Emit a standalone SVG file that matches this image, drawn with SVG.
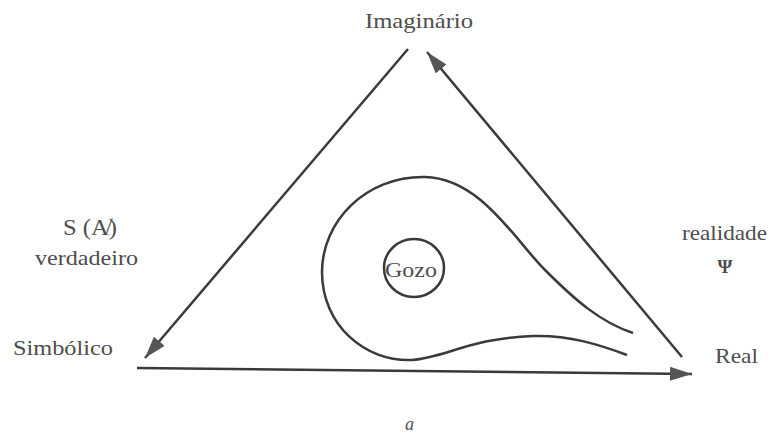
<svg xmlns="http://www.w3.org/2000/svg" width="773" height="436" viewBox="0 0 773 436">
<defs>
<style>
text{font-family:'Liberation Serif','Times New Roman',serif;fill:#4d4d4d;}
.edge{stroke:#3a3a3a;stroke-width:2.5;fill:none;}
</style>
<marker id="ah" markerUnits="userSpaceOnUse" markerWidth="24" markerHeight="16" refX="22" refY="7" orient="auto">
<path d="M0,0 L22,7 L0,14 Z" fill="#555"/>
</marker>
</defs>
<rect width="773" height="436" fill="#fff"/>
<g id="connectors">
<line class="edge" x1="408" y1="49" x2="145" y2="358" marker-end="url(#ah)"/>
<line class="edge" x1="682" y1="357" x2="427" y2="52" marker-end="url(#ah)"/>
<line class="edge" x1="137" y1="368" x2="692" y2="374" marker-end="url(#ah)"/>
</g>
<g id="loop">
<path class="edge" d="M633,333 C600,322 575,300 545,270 C515,240 480,178 425,177 C365,176 322,222 322,272 C322,325 365,362 412,360 C445,358 470,338 533,336 C570,335 600,345 627,355"/>
</g>
<g id="gozo">
<ellipse cx="414" cy="268" rx="30" ry="29" fill="none" stroke="#3a3a3a" stroke-width="2.5"/>
<text font-family="Liberation Serif, serif" x="411" y="277" font-size="22" text-anchor="middle" textLength="52" lengthAdjust="spacingAndGlyphs">Gozo</text>
</g>
<g id="imaginario">
<text font-family="Liberation Serif, serif" x="365" y="28" font-size="22" textLength="108" lengthAdjust="spacingAndGlyphs">Imaginário</text>
</g>
<g id="sa">
<text font-family="Liberation Serif, serif" x="63" y="235" font-size="23" textLength="54" lengthAdjust="spacingAndGlyphs">S (A̸)</text>
<text font-family="Liberation Serif, serif" x="35" y="265" font-size="22" textLength="103" lengthAdjust="spacingAndGlyphs">verdadeiro</text>
</g>
<g id="simbolico">
<text font-family="Liberation Serif, serif" x="13" y="355" font-size="22" textLength="100" lengthAdjust="spacingAndGlyphs">Simbólico</text>
</g>
<g id="realidade">
<text font-family="Liberation Serif, serif" x="682" y="240" font-size="21" textLength="85" lengthAdjust="spacingAndGlyphs">realidade</text>
<text font-family="Liberation Serif, serif" x="725" y="273" font-size="19" font-weight="bold" text-anchor="middle">Ψ</text>
</g>
<g id="real">
<text font-family="Liberation Serif, serif" x="715" y="363" font-size="22" textLength="43" lengthAdjust="spacingAndGlyphs">Real</text>
</g>
<text font-family="Liberation Serif, serif" x="405" y="430" font-size="18" font-style="italic">a</text>
</svg>
